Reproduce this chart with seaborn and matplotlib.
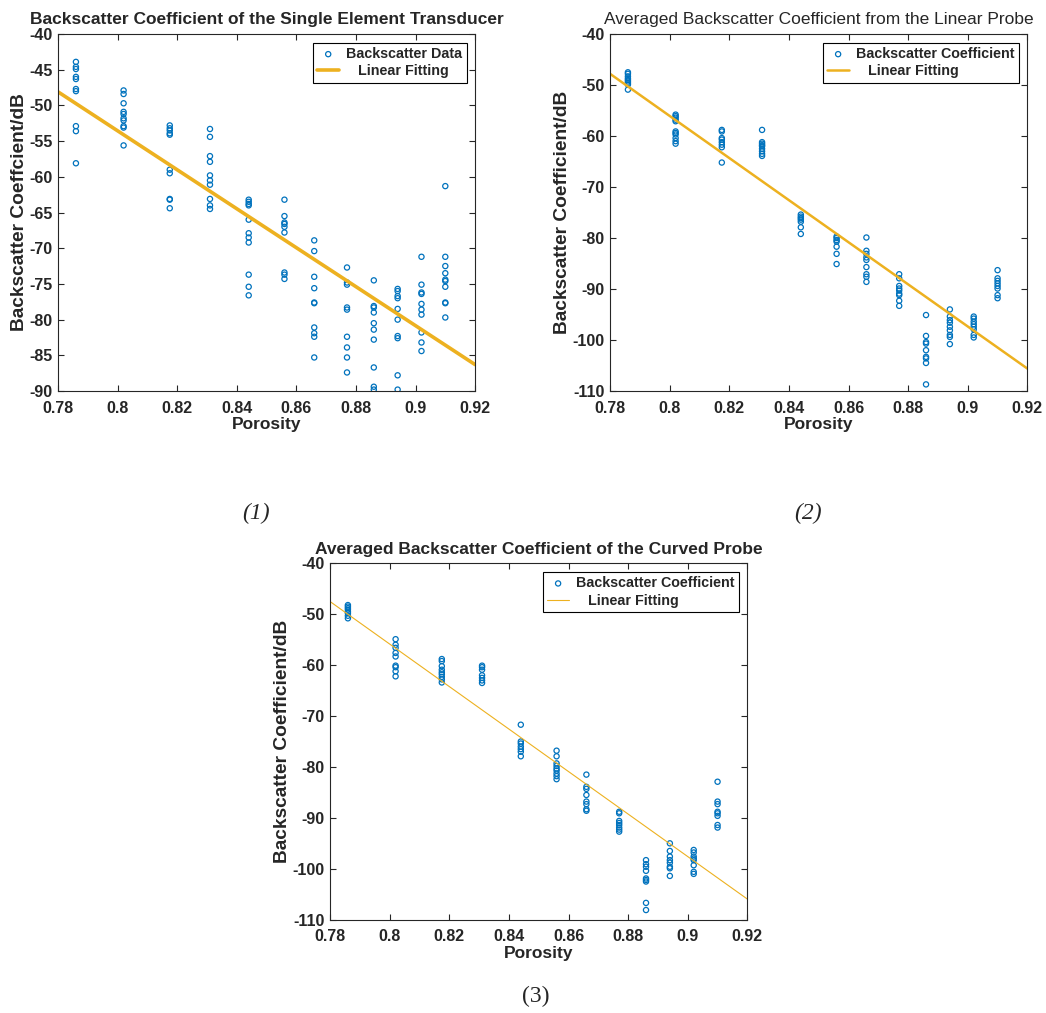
import numpy as np
import pandas as pd
import seaborn as sns
import matplotlib.pyplot as plt
from matplotlib.ticker import FormatStrFormatter

# porosity of the 12 samples (same for all three measurements)
porosity = [0.786, 0.802, 0.8175, 0.831, 0.844, 0.856, 0.866, 0.877, 0.886, 0.894, 0.902, 0.910]

# backscatter coefficient (dB) per sample, single element transducer
bsc_single = [
    [-43.9, -44.6, -44.9, -46.0, -46.3, -47.7, -48.0, -52.9, -53.6, -58.1],
    [-47.9, -48.4, -49.7, -50.9, -51.2, -51.8, -52.1, -52.9, -53.1, -55.6],
    [-52.8, -53.2, -53.5, -53.9, -54.1, -59.0, -59.5, -63.1, -63.2, -64.4],
    [-53.3, -54.4, -57.1, -57.9, -59.8, -60.5, -61.1, -63.1, -64.0, -64.5],
    [-63.2, -63.5, -63.8, -64.0, -66.0, -67.9, -68.5, -69.2, -73.7, -75.4, -76.6],
    [-63.2, -65.5, -66.4, -66.6, -67.0, -67.8, -73.4, -73.7, -74.3],
    [-68.9, -70.4, -74.0, -75.6, -77.6, -77.7, -81.1, -81.9, -82.4, -85.3],
    [-72.7, -74.8, -75.1, -78.3, -78.6, -82.4, -83.9, -85.3, -87.4],
    [-74.5, -78.1, -78.3, -79.0, -80.5, -81.4, -82.8, -86.7, -89.4, -89.8],
    [-75.7, -76.0, -76.7, -77.0, -78.5, -80.0, -82.3, -82.6, -87.8, -89.8],
    [-71.2, -75.1, -76.2, -76.4, -77.8, -78.6, -79.3, -81.8, -83.2, -84.4],
    [-61.3, -71.2, -72.5, -73.5, -74.4, -74.6, -75.4, -77.6, -77.7, -79.7],
]

# averaged backscatter coefficient (dB), linear probe
bsc_linear = [
    [-47.5, -47.8, -48.3, -48.7, -49.0, -49.3, -49.6, -49.9, -50.9],
    [-55.8, -56.1, -56.4, -56.8, -57.1, -59.1, -59.4, -59.7, -60.4, -61.0, -61.5],
    [-58.8, -59.1, -60.4, -60.7, -61.2, -61.7, -62.2, -65.2],
    [-58.8, -61.2, -61.5, -61.8, -62.0, -62.5, -63.0, -63.5, -63.9],
    [-75.4, -75.8, -76.1, -76.4, -76.8, -77.9, -79.2],
    [-79.7, -80.0, -80.4, -80.7, -81.7, -83.1, -85.1],
    [-79.9, -82.5, -83.1, -83.8, -84.3, -85.7, -87.1, -87.6, -88.6],
    [-87.1, -87.9, -89.4, -89.9, -90.3, -90.9, -91.2, -92.3, -93.3],
    [-95.1, -99.2, -100.4, -100.7, -102.0, -103.3, -103.6, -104.5, -108.7],
    [-94.0, -95.4, -96.1, -96.6, -97.4, -98.1, -99.0, -99.4, -100.8],
    [-95.4, -95.8, -96.4, -96.9, -97.4, -97.9, -99.0, -99.5],
    [-86.3, -87.9, -88.4, -88.9, -89.4, -89.9, -91.2, -91.8],
]

# averaged backscatter coefficient (dB), curved probe
bsc_curved = [
    [-48.2, -48.5, -48.8, -49.1, -49.5, -49.8, -50.3, -50.8],
    [-54.9, -56.0, -56.6, -57.6, -58.3, -60.1, -60.4, -61.2, -62.2],
    [-58.8, -59.2, -60.2, -60.9, -61.4, -61.8, -62.3, -62.8, -63.4],
    [-60.1, -60.4, -60.9, -62.0, -62.5, -63.0, -63.5],
    [-71.7, -75.0, -75.4, -76.0, -76.5, -77.0, -77.9],
    [-76.8, -77.9, -79.3, -79.8, -80.3, -80.7, -81.3, -81.8, -82.4],
    [-81.5, -83.9, -84.3, -85.5, -86.8, -87.3, -88.3, -88.6],
    [-88.8, -89.1, -90.6, -91.0, -91.4, -91.9, -92.3, -92.7],
    [-98.3, -99.1, -99.6, -100.4, -101.9, -102.2, -102.5, -106.7, -108.1],
    [-95.0, -96.5, -97.6, -98.3, -98.8, -99.6, -99.9, -101.4],
    [-96.3, -96.8, -97.6, -98.0, -98.3, -99.3, -100.6, -101.0],
    [-82.9, -86.8, -87.3, -88.8, -89.1, -89.6, -91.4, -91.9],
]

# linear fit ends, read at porosity 0.78 and 0.92
fit_x = [0.78, 0.92]
fit_single = [-48.1, -86.3]
fit_linear = [-47.8, -105.6]
fit_curved = [-47.5, -105.95]

sns.set_style("ticks")
plt.rcParams['font.family'] = ['Liberation Sans', 'DejaVu Sans']
plt.rcParams['axes.unicode_minus'] = False

BLUE = '#0072BD'
GOLD = '#EDB120'


def to_frame(groups):
    rows = [(p, v) for p, vals in zip(porosity, groups) for v in vals]
    return pd.DataFrame(rows, columns=['Porosity', 'dB'])


def panel(ax, groups, fit_y, title, title_bold, ylabel, ylim, ystep,
          scatter_label, lw):
    df = to_frame(groups)
    sns.scatterplot(data=df, x='Porosity', y='dB', ax=ax, marker='o',
                    facecolor='none', edgecolor=BLUE, linewidth=0.9, s=14,
                    label=scatter_label, legend=False)
    sns.lineplot(x=fit_x, y=fit_y, ax=ax, color=GOLD, linewidth=lw,
                 label='   Linear Fitting', legend=False)
    ax.set_xlim(0.78, 0.92)
    ax.set_ylim(*ylim)
    ax.set_xticks(np.arange(0.78, 0.9201, 0.02))
    ax.set_yticks(np.arange(ylim[0], ylim[1] + 0.01, ystep))
    ax.xaxis.set_major_formatter(FormatStrFormatter('%g'))
    ax.yaxis.set_major_formatter(FormatStrFormatter('%g'))
    ax.tick_params(direction='in', length=4, width=0.8, top=True, right=True,
                   labelsize=11.5, color='#262626', labelcolor='#262626')
    ax.tick_params(axis='x', pad=7)
    ax.tick_params(axis='y', pad=4)
    for lab in ax.get_xticklabels() + ax.get_yticklabels():
        lab.set_fontweight('bold')
    for sp in ax.spines.values():
        sp.set_visible(True)
        sp.set_linewidth(0.8)
        sp.set_color('#262626')
    ax.set_xlabel('Porosity', fontsize=12.5, fontweight='bold', labelpad=1,
                  color='#262626')
    ax.set_ylabel(ylabel, fontsize=13.8, fontweight='bold', labelpad=1,
                  color='#262626')
    ax.set_title(title, fontsize=12.5, fontweight='bold' if title_bold else 'normal',
                 pad=7)
    leg = ax.legend(loc='upper right', fancybox=False, framealpha=1,
                    edgecolor='black', prop={'weight': 'bold', 'size': 10.3},
                    handlelength=1.5, borderaxespad=0.6, borderpad=0.3,
                    labelspacing=0.25, handletextpad=0.5)
    leg.get_frame().set_linewidth(0.8)


fig = plt.figure(figsize=(10.46, 10.13), dpi=100)
ax1 = fig.add_axes([0.0555, 0.614, 0.3987, 0.3524])
ax2 = fig.add_axes([0.5832, 0.614, 0.399, 0.3524])
ax3 = fig.add_axes([0.3155, 0.0921, 0.399, 0.3518])

panel(ax1, bsc_single, fit_single,
      'Backscatter Coefficient of the Single Element Transducer', True,
      'Backscatter Coeffcient/dB', (-90, -40), 5, 'Backscatter Data', 2.6)
panel(ax2, bsc_linear, fit_linear,
      'Averaged Backscatter Coefficient from the Linear Probe', False,
      'Backscatter Coefficient/dB', (-110, -40), 10, 'Backscatter Coefficient', 1.8)
panel(ax3, bsc_curved, fit_curved,
      'Averaged Backscatter Coefficient of the Curved Probe', True,
      'Backscatter Coefficient/dB', (-110, -40), 10, 'Backscatter Coefficient', 0.8)

fig.text(0.245, 0.493, '(1)', fontsize=17, style='italic', family='Liberation Serif',
         ha='center', va='center')
fig.text(0.772, 0.493, '(2)', fontsize=17, style='italic', family='Liberation Serif',
         ha='center', va='center')
fig.text(0.512, 0.016, '(3)', fontsize=17, family='Liberation Serif',
         ha='center', va='center')

fig.savefig('out.png', dpi=100, facecolor='white')
